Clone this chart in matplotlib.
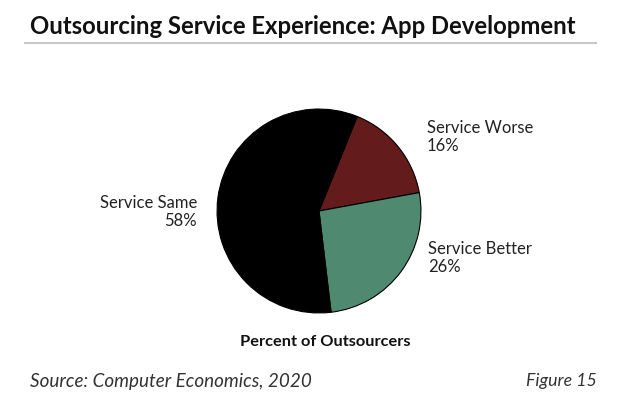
import matplotlib
matplotlib.use("Agg")
import matplotlib.pyplot as plt
from matplotlib.lines import Line2D

categories = ["Service Worse", "Service Better", "Service Same"]
values = [16, 26, 58]
colors = ["#631b1b", "#4f8a70", "#000000"]

plt.rcParams['font.family'] = ['Lato', 'DejaVu Sans']

W, H = 628, 404
fig = plt.figure(figsize=(W/100, H/100), dpi=100)
fig.patch.set_facecolor("white")

def fx(x): return x / W
def fy(y): return 1 - y / H

cx, cy, r = 319, 211, 104
ax = fig.add_axes([fx(cx - r), fy(cy + r), 2*r/W, 2*r/H])
ax.pie(values, colors=colors, startangle=68, counterclock=False,
       wedgeprops=dict(edgecolor="black", linewidth=0.8))
ax.set_xlim(-1.02, 1.02); ax.set_ylim(-1.02, 1.02)
ax.set_aspect("auto")
ax.axis("off")

fig.text(fx(30), fy(26), "Outsourcing Service Experience: App Development",
         fontsize=17.2, fontweight="bold", ha="left", va="center", color="#111111")
fig.add_artist(Line2D([fx(25), fx(596)], [fy(43), fy(43)], color="#c8c8c8", linewidth=1.5))

fs = 12
fig.text(fx(427), fy(137), f"{categories[0]}\n{values[0]}%", fontsize=fs, ha="left", va="center",
         linespacing=1.2, color="#222222")
fig.text(fx(428), fy(258), f"{categories[1]}\n{values[1]}%", fontsize=fs, ha="left", va="center",
         linespacing=1.2, color="#222222")
fig.text(fx(197), fy(212), f"{categories[2]}\n{values[2]}%", fontsize=fs, ha="right", va="center",
         multialignment="right", linespacing=1.2, color="#222222")

fig.text(fx(325), fy(342), "Percent of Outsourcers", fontsize=11.8, fontweight="bold",
         ha="center", va="center", color="#111111")
fig.text(fx(30), fy(381), "Source: Computer Economics, 2020", fontsize=13.6, fontstyle="italic",
         ha="left", va="center", color="#333333")
fig.text(fx(597), fy(381), "Figure 15", fontsize=12.8, fontstyle="italic",
         ha="right", va="center", color="#333333")

fig.savefig("out.png", dpi=100, facecolor="white")
